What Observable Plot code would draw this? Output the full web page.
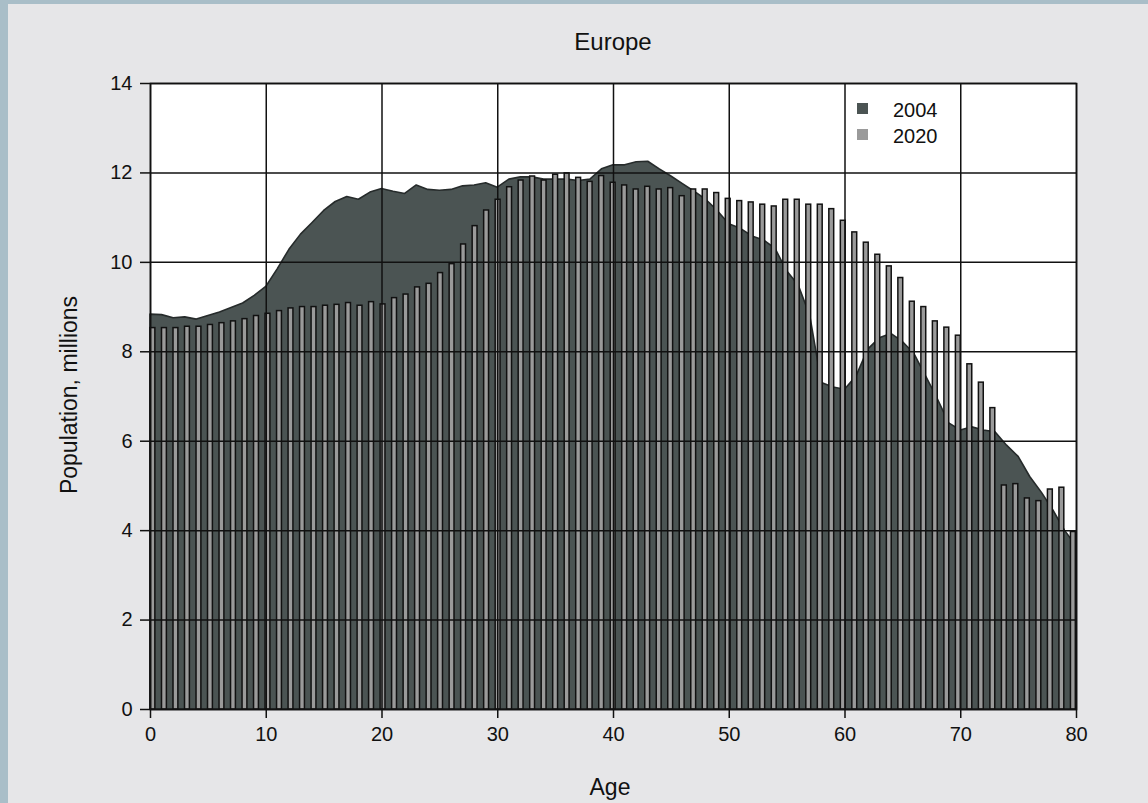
<!DOCTYPE html>
<html>
<head>
<meta charset="utf-8">
<script src="https://cdn.jsdelivr.net/npm/d3@7"></script>
<script src="https://cdn.jsdelivr.net/npm/@observablehq/plot@0.6"></script>
<style>
  html, body { margin: 0; padding: 0; width: 1148px; height: 803px; overflow: hidden; background: #a9bec8; }
  #panel { position: absolute; left: 8px; top: 4px; width: 1140px; height: 799px; background: #e6e6e8; }
  .txt { position: absolute; font-family: "Liberation Sans", Arial, Helvetica, sans-serif; color: #111; white-space: nowrap; line-height: 1; }
  #title { left: 613px; top: 42px; transform: translate(-50%, -50%); font-size: 24px; }
  #xlabel { left: 610px; top: 787px; transform: translate(-50%, -50%); font-size: 23px; }
  #ylabel { left: 69px; top: 395px; transform: translate(-50%, -50%) rotate(-90deg); font-size: 23px; }
  #chart { position: absolute; left: 0; top: 60px; }
  .sw { position: absolute; width: 11px; height: 11px; }
  .lg { position: absolute; font-family: "Liberation Sans", Arial, Helvetica, sans-serif; font-size: 20px; color: #111; line-height: 1; transform: translateY(-50%); }
</style>
</head>
<body>
<div id="panel"></div>
<div id="chart"></div>
<div class="txt" id="title">Europe</div>
<div class="txt" id="xlabel">Age</div>
<div class="txt" id="ylabel">Population, millions</div>
<div id="legend"></div>
<script>
const ages = d3.range(0, 81);
const seriesNames = ["2004", "2020"];
const seriesColors = ["#4b5453", "#9a9a9a"];
const pop2004 = [
  8.83, 8.82, 8.75, 8.77, 8.72, 8.80, 8.88, 8.98, 9.08, 9.25,
  9.45, 9.85, 10.28, 10.62, 10.88, 11.15, 11.35, 11.46, 11.40, 11.56,
  11.64, 11.58, 11.53, 11.72, 11.62, 11.60, 11.62, 11.70, 11.72, 11.77,
  11.67, 11.85, 11.90, 11.90, 11.85, 11.85, 11.85, 11.82, 11.85, 12.08,
  12.17, 12.17, 12.24, 12.25, 12.08, 11.92, 11.75, 11.58, 11.40, 11.15,
  10.85, 10.75, 10.58, 10.49, 10.30, 9.80, 9.48, 8.80, 7.30, 7.20,
  7.15, 7.45, 8.05, 8.30, 8.40, 8.22, 7.95, 7.45, 6.95, 6.40,
  6.24, 6.31, 6.24, 6.20, 5.90, 5.65, 5.20, 4.85, 4.45, 4.00,
  3.65
];
const pop2020 = [
  8.53, 8.53, 8.53, 8.56, 8.56, 8.60, 8.64, 8.68, 8.73, 8.80,
  8.85, 8.91, 8.97, 9.00, 9.00, 9.03, 9.05, 9.09, 9.03, 9.11,
  9.06, 9.20, 9.28, 9.44, 9.52, 9.76, 9.96, 10.40, 10.81, 11.16,
  11.40, 11.68, 11.83, 11.92, 11.83, 11.96, 11.99, 11.89, 11.80, 11.93,
  11.78, 11.72, 11.63, 11.69, 11.63, 11.66, 11.48, 11.63, 11.63, 11.55,
  11.42, 11.37, 11.34, 11.29, 11.25, 11.40, 11.40, 11.29, 11.29, 11.19,
  10.93, 10.67, 10.44, 10.17, 9.91, 9.65, 9.12, 9.00, 8.68, 8.54,
  8.36, 7.72, 7.31, 6.74, 5.01, 5.04, 4.72, 4.66, 4.92, 4.96,
  3.97
];
const xTicks = [0, 10, 20, 30, 40, 50, 60, 70, 80];
const yTicks = [0, 2, 4, 6, 8, 10, 12, 14];

const data = ages.map((a, i) => ({age: a, p2004: pop2004[i], p2020: pop2020[i]}));

const chart = Plot.plot({
  width: 1148,
  height: 743,
  marginLeft: 150,
  marginRight: 72,
  marginTop: 23,
  marginBottom: 94,
  x: {domain: [0, 80]},
  y: {domain: [0, 14]},
  style: {background: "transparent", fontFamily: "'Liberation Sans', Arial, Helvetica, sans-serif", fontSize: "20px", color: "#111"},
  marks: [
    Plot.frame({fill: "white", stroke: null}),
    Plot.areaY(data, {x: "age", y: "p2004", fill: seriesColors[0], stroke: "#262b2b", strokeWidth: 1.6}),
    Plot.rect(data, {
      x1: d => d.age * 0.994,
      x2: d => d.age * 0.994 + 0.42,
      y1: 0,
      y2: "p2020",
      fill: seriesColors[1],
      stroke: "#111",
      strokeWidth: 1.5
    }),
    Plot.gridX(xTicks, {stroke: "#111", strokeOpacity: 1, strokeWidth: 1.5}),
    Plot.gridY(yTicks, {stroke: "#111", strokeOpacity: 1, strokeWidth: 1.5}),
    Plot.frame({stroke: "#111", strokeWidth: 1.6}),
    Plot.axisX(xTicks, {tickSize: 9, tickPadding: 8, label: null, stroke: "#111", strokeWidth: 1.5, fontSize: 20}),
    Plot.axisY(yTicks, {tickSize: 10, tickPadding: 8, label: null, stroke: "#111", strokeWidth: 1.5, fontSize: 20})
  ]
});
document.getElementById("chart").appendChild(chart);

const legend = document.getElementById("legend");
seriesNames.forEach((name, i) => {
  const sw = document.createElement("div");
  sw.className = "sw";
  sw.style.left = "857px";
  sw.style.top = (103 + i * 26) + "px";
  sw.style.background = seriesColors[i];
  legend.appendChild(sw);
  const t = document.createElement("div");
  t.className = "lg";
  t.style.left = "893px";
  t.style.top = (110 + i * 25.5) + "px";
  t.textContent = name;
  legend.appendChild(t);
});
</script>
</body>
</html>
